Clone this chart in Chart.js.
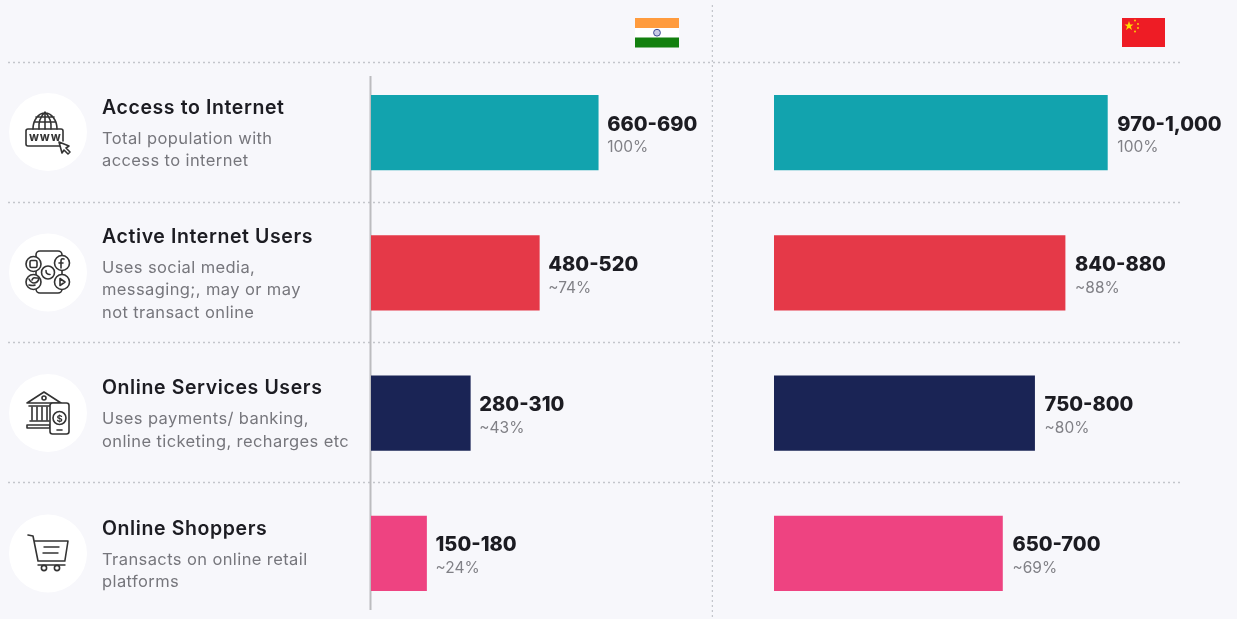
<!DOCTYPE html>
<html>
<head>
<meta charset="utf-8">
<title>Internet funnel: India vs China</title>
<script src="https://cdn.jsdelivr.net/npm/chart.js@4"></script>
<style>
  html, body { margin: 0; width: 1237px; height: 619px; overflow: hidden; background: #f7f7fb; }
  canvas, svg { position: absolute; top: 0; }
  #indiaChart { left: 0; }
  #chinaChart { left: 713px; }
  svg { left: 0; pointer-events: none; }
  .ic { fill: none; stroke: #333; stroke-width: 1.6; stroke-linecap: round; stroke-linejoin: round; }
</style>
</head>
<body>
<canvas id="indiaChart" width="713" height="640"></canvas>
<canvas id="chinaChart" width="524" height="640"></canvas>

<svg width="1237" height="619" viewBox="0 0 1237 619">
  <!-- flags -->
  <rect x="635" y="18" width="44" height="10" fill="#ff9b3d"/>
  <rect x="635" y="28" width="44" height="10" fill="#fff"/>
  <rect x="635" y="37.5" width="44" height="10" fill="#13800f"/>
  <circle cx="657" cy="32.7" r="3.4" fill="#c9cbe6" stroke="#3b4a94" stroke-width="1"/>
  <rect x="1122" y="18" width="43" height="29" fill="#ee1c25"/>
  <polygon points="1126,30 1129,21 1132,30 1124.5,24.5 1133.5,24.5" fill="#ffde00"/>
  <g fill="#ffde00"><circle cx="1135" cy="20.5" r="0.9"/><circle cx="1138" cy="24" r="0.9"/><circle cx="1138" cy="28" r="0.9"/><circle cx="1135" cy="31.5" r="0.9"/></g>

  <!-- row icons -->
  <g fill="#fff"><circle cx="48" cy="132" r="39"/><circle cx="48" cy="272.5" r="39"/><circle cx="48" cy="413" r="39"/><circle cx="48" cy="553.5" r="39"/></g>

  <g class="ic">
    <path d="M33 129 a12 16 0 0 1 24 0 M45 112 v17 M39 129 q-1 -10 6 -17 q7 7 6 17 M34 122 h22 M36 117 h18"/>
    <path d="M60 146 h-32 q-2 0 -2 -2 v-13 q0 -2 2 -2 h33 q2 0 2 2 v10"/>
    <path d="M59 142 l10 4 l-3 2 l4 4 l-2 2 l-4 -4 l-2 3 z" fill="#fff"/>
  </g>
  <text x="29" y="141" font-family="Inter" font-weight="800" font-size="9.5" letter-spacing="0.6" fill="#333">WWW</text>

  <g class="ic">
    <rect x="36" y="251" width="26" height="42" rx="4"/>
    <circle cx="33.5" cy="264" r="7.5" fill="#fff"/><rect x="30" y="260.5" width="7" height="7" rx="1.5"/>
    <circle cx="62" cy="263" r="7.5" fill="#fff"/><path d="M64 259 q-3 -1 -3 2 v7 M59 263 h4"/>
    <circle cx="33.5" cy="282" r="7.5" fill="#fff"/><path d="M29 279 q2 4 5 4 q4 0 5 -5 q-2 0 -3 0 q-3 -1 -4 2 M29 285 q4 1 6 0"/>
    <circle cx="62" cy="282" r="7.5" fill="#fff"/><path d="M60 278.5 l5 3.5 l-5 3.5 z"/>
    <circle cx="48" cy="272.5" r="6.5" fill="#fff"/><path d="M46 270.5 q0 4 4 4"/>
  </g>

  <g class="ic">
    <path d="M27 403 l17 -11 l17 11 z M29 406 h29 M30 421 h19 M27 425 h23 v3 h-23 z"/>
    <circle cx="44" cy="398" r="2"/>
    <path d="M32 407 v13 M37 407 v13 M42 407 v13 M47 407 v13"/>
    <rect x="50" y="403" width="19" height="31" rx="2.5" fill="#fff"/>
    <circle cx="59.5" cy="418" r="6.5"/>
    <path d="M57 430 h5"/>
  </g>
  <text x="59.5" y="421.5" text-anchor="middle" font-family="Inter" font-weight="700" font-size="9.5" fill="#333">$</text>

  <g class="ic">
    <path d="M28 535 l5 1 l5 25 h27 M34 541 h34 l-3 19"/>
    <path d="M44 547 h15 M43 553 h15 M38 565 h27" stroke-width="1.4"/>
    <circle cx="44" cy="568" r="2.6"/><circle cx="57" cy="568" r="2.6"/>
  </g>
</svg>

<script>
const categories = ["Access to Internet", "Active Internet Users", "Online Services Users", "Online Shoppers"];
const descriptions = [
  ["Total population with", "access to internet"],
  ["Uses social media,", "messaging;, may or may", "not transact online"],
  ["Uses payments/ banking,", "online ticketing, recharges etc"],
  ["Transacts on online retail", "platforms"]
];
const barColors = ["#12a3ae", "#e53948", "#1a2455", "#ee4381"];

// bar lengths, close to the middle of each printed range
const indiaValues = [675, 500, 295, 165];
const indiaRanges = ["660-690", "480-520", "280-310", "150-180"];
const indiaShares = ["100%", "~74%", "~43%", "~24%"];

const chinaValues = [985, 860, 770, 675];
const chinaRanges = ["970-1,000", "840-880", "750-800", "650-700"];
const chinaShares = ["100%", "~88%", "~80%", "~69%"];

const FONT = "Inter, 'Open Sans', sans-serif";

function text(ctx, str, x, y, font, color, spacing) {
  ctx.font = font;
  ctx.fillStyle = color;
  ctx.letterSpacing = spacing || "0px";
  ctx.textBaseline = "middle";
  ctx.fillText(str, x, y);
}

function dotted(ctx, x1, y1, x2, y2) {
  ctx.save();
  ctx.strokeStyle = "#c4c6cc";
  ctx.lineWidth = 1.5;
  ctx.setLineDash([2, 3]);
  ctx.beginPath();
  ctx.moveTo(x1, y1);
  ctx.lineTo(x2, y2);
  ctx.stroke();
  ctx.restore();
}

// row separators, drawn on the band edges of the category scale
function separators(chart, fromX, toX) {
  const y = chart.scales.y;
  categories.forEach((c, i) => {
    const edge = Math.round(y.getPixelForValue(i) - y.height / categories.length / 2) - 0.5;
    dotted(chart.ctx, fromX, edge, toX, edge);
  });
}

function barLabels(chart, ranges, shares, gap) {
  const bars = chart.getDatasetMeta(0).data;
  bars.forEach((bar, i) => {
    text(chart.ctx, ranges[i], bar.x + gap, bar.y - 8, "800 20px " + FONT, "#1c1c22", "0px");
    text(chart.ctx, shares[i], bar.x + gap, bar.y + 15, "400 15.5px " + FONT, "#808086", "0px");
  });
}

const indiaExtras = {
  id: "indiaExtras",
  beforeDatasetsDraw(chart) {
    separators(chart, 8, 713);
    dotted(chart.ctx, 712.5, 5, 712.5, 619);
    const ctx = chart.ctx;
    ctx.save();
    ctx.strokeStyle = "#bcbcbf";
    ctx.lineWidth = 2;
    ctx.beginPath();
    ctx.moveTo(370.5, 76);
    ctx.lineTo(370.5, 610);
    ctx.stroke();
    ctx.restore();
  },
  afterDatasetsDraw(chart) {
    const ctx = chart.ctx;
    barLabels(chart, indiaRanges, indiaShares, 9);
    categories.forEach((c, i) => {
      const lines = descriptions[i];
      const mid = chart.scales.y.getPixelForValue(i);
      const top = mid - (31 + 22.3 * (lines.length - 1)) / 2 + 2;
      text(ctx, c, 102, top, "600 19.5px " + FONT, "#1c1c22", "0.6px");
      lines.forEach((l, j) => {
        text(ctx, l, 102, top + 31 + 22.3 * j, "400 16.5px " + FONT, "#76767c", "0.4px");
      });
    });
  }
};

const chinaExtras = {
  id: "chinaExtras",
  beforeDatasetsDraw(chart) {
    separators(chart, 0, 467);
  },
  afterDatasetsDraw(chart) {
    barLabels(chart, chinaRanges, chinaShares, 10);
  }
};

function makeChart(id, values, xMax, padLeft, extras) {
  return new Chart(document.getElementById(id), {
    type: "bar",
    data: {
      labels: categories,
      datasets: [{ data: values, backgroundColor: barColors, barThickness: 74.5 }]
    },
    options: {
      indexAxis: "y",
      responsive: false,
      animation: false,
      layout: { padding: { left: padLeft, right: 0, top: 62.5, bottom: 16.5 } },
      plugins: { legend: { display: false }, tooltip: { enabled: false } },
      scales: {
        x: { display: false, min: 0, max: xMax },
        y: { display: false }
      }
    },
    plugins: [extras]
  });
}

makeChart("indiaChart", indiaValues, 1016, 371, indiaExtras);
makeChart("chinaChart", chinaValues, 1368, 61, chinaExtras);
</script>
</body>
</html>
